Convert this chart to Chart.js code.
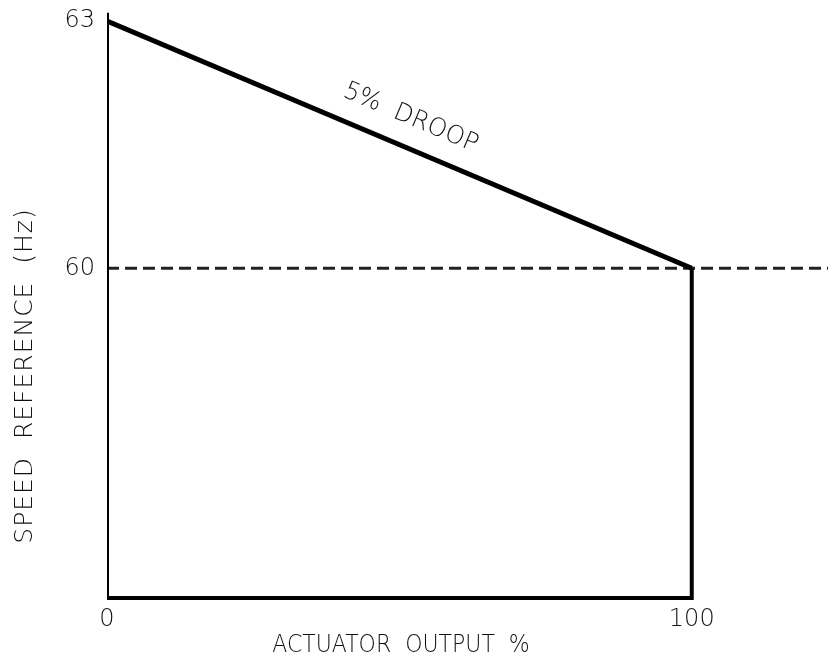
<!DOCTYPE html>
<html>
<head>
<meta charset="utf-8">
<script src="https://cdn.jsdelivr.net/npm/chart.js@4"></script>
<style>
  html, body { margin: 0; padding: 0; background: #fff; }
  #wrap { width: 828px; height: 660px; }
</style>
</head>
<body>
<div id="wrap"><canvas id="myChart"></canvas></div>
<script>
// droop curve: actuator output % vs speed reference Hz
var droopX = [0, 100];
var droopY = [63, 60];
// outline of the operating box
var frameX = [0, 0, 100, 100];
var frameY = [63.1, 56, 56, 60];
// rated speed reference (dashed)
var ratedX = [0, 123.3];
var ratedY = [60, 60];
var xTicks = [0, 100];
var yTicks = [60, 63];

function pts(xs, ys) {
  return xs.map(function (x, i) { return { x: x, y: ys[i] }; });
}

var FONT = "200 25px 'DejaVu Sans'";

function squeezed(ctx, txt, x, y, sx) {
  ctx.save();
  ctx.translate(x, y);
  ctx.scale(sx, 1);
  ctx.fillText(txt, 0, 0);
  ctx.restore();
}

var textPlugin = {
  id: "texts",
  afterDraw: function (chart) {
    var ctx = chart.ctx;
    var xs = chart.scales.x, ys = chart.scales.y;
    ctx.save();
    ctx.fillStyle = "#111";
    ctx.font = FONT;
    ctx.textAlign = "center";
    ctx.textBaseline = "middle";
    // x title
    squeezed(ctx, "ACTUATOR  OUTPUT  %", 401, 645, 0.88);
    // y title
    ctx.save();
    ctx.translate(25, 376);
    ctx.rotate(-Math.PI / 2);
    ctx.letterSpacing = "1px";
    squeezed(ctx, "SPEED  REFERENCE  (Hz)", 0, 0, 1);
    ctx.restore();
    // droop label along the line
    var x0 = xs.getPixelForValue(droopX[0]), y0 = ys.getPixelForValue(droopY[0]);
    var x1 = xs.getPixelForValue(droopX[1]), y1 = ys.getPixelForValue(droopY[1]);
    var ang = Math.atan2(y1 - y0, x1 - x0);
    var mx = x0 + (x1 - x0) * 0.5, my = y0 + (y1 - y0) * 0.5;
    ctx.translate(mx, my);
    ctx.rotate(ang);
    squeezed(ctx, "5%  DROOP", 0, -29, 0.98);
    ctx.restore();
  }
};

var ctx = document.getElementById("myChart").getContext("2d");
var chart = new Chart(ctx, {
  type: "line",
  data: {
    datasets: [
      {
        label: "frame",
        data: pts(frameX, frameY),
        borderColor: "#000",
        borderWidth: 4,
        pointRadius: 0,
        fill: false,
        borderJoinStyle: "miter"
      },
      {
        label: "droop",
        data: pts(droopX, droopY),
        borderColor: "#000",
        borderWidth: 5,
        pointRadius: 0,
        fill: false
      },
      {
        label: "rated",
        data: pts(ratedX, ratedY),
        borderColor: "#222",
        borderWidth: 3,
        borderDash: [12, 6],
        pointRadius: 0,
        fill: false
      }
    ]
  },
  options: {
    responsive: true,
    maintainAspectRatio: false,
    animation: false,
    layout: { padding: { left: 0, right: 0, top: 12, bottom: 0 } },
    plugins: { legend: { display: false }, tooltip: { enabled: false } },
    scales: {
      x: {
        type: "linear",
        min: 0,
        max: 123.3,
        afterFit: function (s) { s.height = 58; s.paddingLeft = 0; s.paddingRight = 0; },
        border: { display: false },
        grid: { display: false, drawTicks: false },
        afterBuildTicks: function (s) { s.ticks = xTicks.map(function (v) { return { value: v }; }); },
        ticks: { color: "#111", font: { family: "DejaVu Sans", size: 24, weight: 200 }, padding: 3, maxRotation: 0 }
      },
      y: {
        type: "linear",
        min: 55.95,
        max: 63.11,
        afterFit: function (s) { s.width = 107; s.paddingTop = 0; s.paddingBottom = 0; },
        border: { display: false },
        grid: { display: false, drawTicks: false },
        afterBuildTicks: function (s) { s.ticks = yTicks.map(function (v) { return { value: v }; }); },
        ticks: { color: "#111", font: { family: "DejaVu Sans", size: 24, weight: 200 }, padding: 12 }
      }
    }
  },
  plugins: [textPlugin]
});
</script>
</body>
</html>
